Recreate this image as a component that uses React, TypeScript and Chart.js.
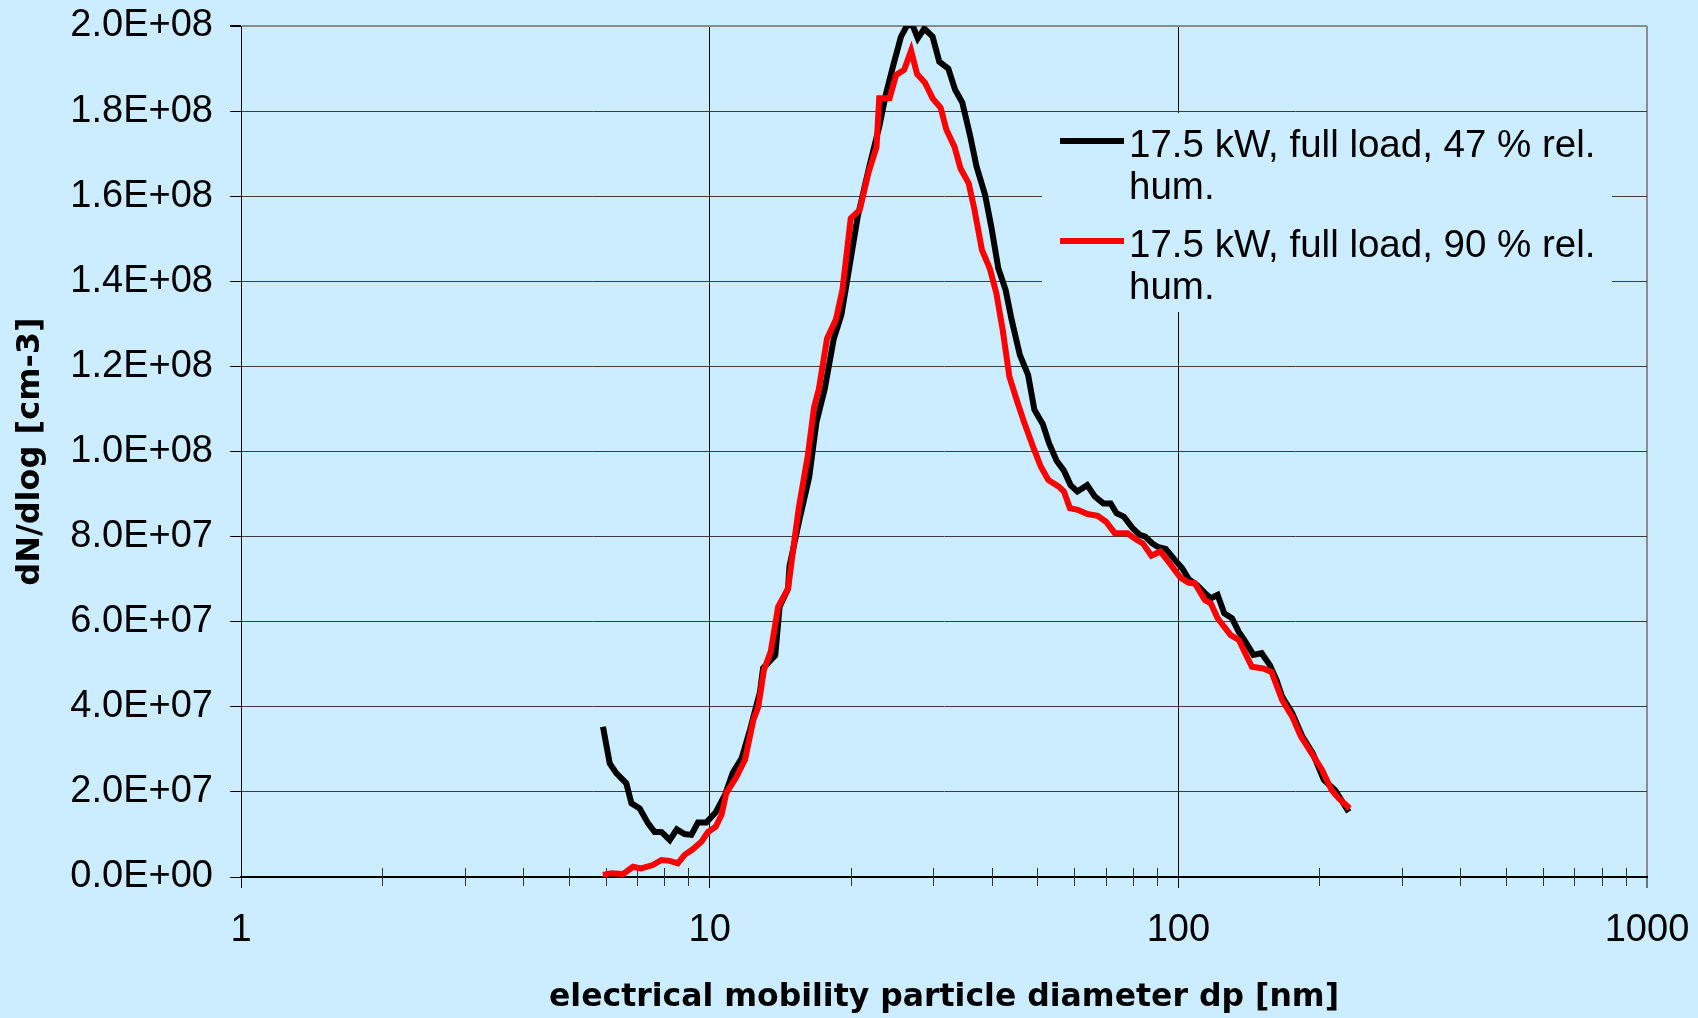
import React, { useEffect, useRef } from 'react';
import { Chart, registerables } from 'chart.js';

Chart.register(...registerables);

// ---- data ----
const blackDp = [
  5.92, 6.12, 6.32, 6.64, 6.81, 7.09, 7.39, 7.63, 7.89, 8.22, 8.51, 8.84, 9.14, 9.44, 9.84,
  10.3, 10.8, 11.2, 11.7, 12.2, 12.8, 13.0, 13.8, 14.1, 14.7, 14.8, 15.5, 16.3, 16.9, 17.6,
  18.4, 19.1, 19.6, 20.7, 21.9, 23.0, 23.8, 24.6, 25.6, 26.4, 27.1, 27.8, 28.7, 29.9, 30.9,
  32.3, 33.4, 34.6, 35.9, 37.1, 38.7, 39.9, 41.3, 42.8, 44.1, 45.9, 47.8, 49.3, 51.4, 53.0,
  55.0, 57.0, 58.9, 60.9, 63.9, 66.4, 69.2, 71.7, 73.8, 76.5, 80.0, 82.8, 85.0, 88.0, 90.3,
  94.0, 98.0, 102.0, 105.2, 109.6, 114, 117.3, 121.3, 125.3, 130.2, 134.6, 139.0, 144.6, 150.6, 156.8,
  162.0, 166.5, 175, 184, 193.5, 204.5, 216, 231,
];
const blackN = [
  35.3e6, 26.7e6, 24.4e6, 22.0e6, 17.3e6, 16.1e6, 12.6e6, 10.6e6, 10.6e6, 8.7e6, 11.2e6, 10.1e6, 9.9e6, 12.8e6, 12.8e6,
  15.2e6, 19.5e6, 24.5e6, 27.9e6, 34.7e6, 43.4e6, 49.1e6, 52.1e6, 63.5e6, 67.8e6, 73.0e6, 83.4e6, 93.9e6, 106.9e6, 114.7e6,
  126.5e6, 132.1e6, 139.5e6, 155.2e6, 166.9e6, 176.3e6, 184.2e6, 190.4e6, 197.5e6, 200.2e6, 200.2e6, 197.1e6, 199.4e6, 197.5e6, 191.6e6,
  190.0e6, 185.0e6, 182.0e6, 174.5e6, 167.0e6, 160.3e6, 152.8e6, 143.0e6, 138.0e6, 130.9e6, 122.7e6, 118.0e6, 109.8e6, 106.4e6, 101.9e6,
  97.8e6, 95.5e6, 92.1e6, 90.6e6, 92.1e6, 89.4e6, 87.8e6, 87.8e6, 85.5e6, 84.7e6, 81.9e6, 80.4e6, 80.0e6, 78.4e6, 77.6e6,
  77.1e6, 74.7e6, 72.5e6, 70.0e6, 68.6e6, 66.7e6, 65.5e6, 66.3e6, 62.0e6, 60.8e6, 57.6e6, 55.3e6, 52.2e6, 52.6e6, 49.8e6,
  46.3e6, 42.4e6, 38.5e6, 33.0e6, 29.1e6, 22.8e6, 20.4e6, 15.3e6,
];
const redDp = [
  5.92, 6.17, 6.54, 6.86, 7.14, 7.56, 7.89, 8.22, 8.55, 8.84, 9.2, 9.6, 9.92, 10.3, 10.6,
  10.85, 11.4, 11.9, 12.4, 12.7, 13.05, 13.5, 14.0, 14.7, 15.2, 15.5, 16.2, 16.7, 17.1, 17.8,
  18.6, 19.2, 20.0, 20.9, 21.8, 22.7, 23.0, 24.2, 25.0, 26.0, 26.9, 27.7, 28.8, 29.9, 31.1,
  32.0, 33.3, 34.3, 35.7, 36.7, 38.1, 39.6, 40.9, 42.2, 43.6, 45.2, 47.0, 49.1, 50.9, 52.8,
  55.5, 57.0, 58.7, 61.0, 64.0, 67.3, 70.1, 73.2, 77.9, 81.6, 84.0, 87.6, 91.5, 95.9, 101.0,
  105, 108.5, 113.9, 117.3, 121.3, 129.2, 134.6, 143.5, 151.8, 158.1, 166.5, 175, 182.7, 193.5, 202.7,
  212.4, 219.8, 232,
];
const redN = [
  0.5e6, 0.9e6, 0.7e6, 2.4e6, 2.0e6, 2.8e6, 4.0e6, 3.8e6, 3.2e6, 5.2e6, 6.5e6, 8.3e6, 10.6e6, 11.8e6, 14.6e6,
  19.7e6, 23.5e6, 27.6e6, 37.0e6, 40.0e6, 48.6e6, 53.0e6, 63.5e6, 67.8e6, 80.0e6, 86.9e6, 99.1e6, 110.4e6, 114.7e6, 126.5e6,
  131.1e6, 138.0e6, 154.8e6, 156.8e6, 165.4e6, 171.6e6, 183.0e6, 183.0e6, 188.5e6, 189.7e6, 194.2e6, 188.7e6, 186.7e6, 183.0e6, 180.8e6,
  175.6e6, 171.6e6, 166.5e6, 163.0e6, 157.0e6, 147.4e6, 143.0e6, 137.2e6, 128.5e6, 117.6e6, 112.1e6, 106.5e6, 100.8e6, 96.4e6, 93.3e6,
  91.8e6, 90.6e6, 86.7e6, 86.3e6, 85.3e6, 84.9e6, 83.5e6, 80.8e6, 80.8e6, 79.2e6, 78.4e6, 75.5e6, 76.5e6, 73.7e6, 70.4e6,
  69.2e6, 69.0e6, 65.1e6, 64.3e6, 60.8e6, 56.9e6, 55.7e6, 49.4e6, 49.0e6, 48.2e6, 41.6e6, 37.7e6, 33.0e6, 28.7e6, 25.1e6,
  20.4e6, 18.5e6, 16.1e6,
];

const seriesLabels = [
  ['17.5 kW, full load, 47 % rel.', 'hum.'],
  ['17.5 kW, full load, 90 % rel.', 'hum.'],
];
const xTickLabels = [1, 10, 100, 1000];
const xMinorTicks = [2, 3, 4, 5, 6, 7, 8, 9, 20, 30, 40, 50, 60, 70, 80, 90, 200, 300, 400, 500, 600, 700, 800, 900];
const xTitle = 'electrical mobility particle diameter dp [nm]';
const yTitle = 'dN/dlog [cm-3]';
const yMin = 0;
const yMax = 2e8;
const yStep = 2e7;

// ---- styles ----
const BG = '#CCECFF';
const SANS = '"Liberation Sans", Arial, sans-serif';
const COLORS = ['#000000', '#FF0000'];

function sci(v: number): string {
  if (Math.abs(v) < 1) return '0.0E+00';
  const e = Math.floor(Math.log10(v) + 1e-9);
  const m = v / Math.pow(10, e);
  return m.toFixed(1) + 'E+' + String(e).padStart(2, '0');
}
function isPow10(v: number): boolean {
  const l = Math.log10(v);
  return Math.abs(l - Math.round(l)) < 1e-9;
}

const overlayPlugin = {
  id: 'overlay',
  beforeDatasetsDraw(chart: any) {
    const ctx = chart.ctx;
    const xs = chart.scales.x;
    const base = chart.chartArea.bottom;
    ctx.save();
    ctx.strokeStyle = '#333333';
    ctx.lineWidth = 1;
    for (const v of xMinorTicks) {
      const px = Math.round(xs.getPixelForValue(v)) + 0.5;
      ctx.beginPath();
      ctx.moveTo(px, base - 9);
      ctx.lineTo(px, base + 9);
      ctx.stroke();
    }
    ctx.restore();
  },
  afterDatasetsDraw(chart: any) {
    const ctx = chart.ctx;
    ctx.save();
    ctx.fillStyle = BG;
    ctx.fillRect(1042, 113, 570, 199);
    const rows = [141, 241];
    seriesLabels.forEach((lines, i) => {
      const y = rows[i];
      ctx.strokeStyle = COLORS[i];
      ctx.lineWidth = 6;
      ctx.beginPath();
      ctx.moveTo(1060, y);
      ctx.lineTo(1124, y);
      ctx.stroke();
      ctx.fillStyle = '#000';
      ctx.font = '38.5px ' + SANS;
      ctx.textBaseline = 'alphabetic';
      ctx.textAlign = 'left';
      lines.forEach((t, j) => {
        ctx.fillText(t, 1129, y + 16 + j * 42);
      });
    });
    ctx.restore();
  },
};

export default function App() {
  const ref = useRef<HTMLCanvasElement | null>(null);
  useEffect(() => {
    document.body.style.margin = '0';
    document.body.style.background = BG;
    const canvas = ref.current;
    if (!canvas) return;
    const chart = new Chart(canvas, {
      type: 'scatter',
      data: {
        datasets: [
          {
            label: seriesLabels[0].join(' '),
            data: blackDp.map((x, i) => ({ x, y: blackN[i] })),
            showLine: true,
            borderColor: COLORS[0],
            backgroundColor: COLORS[0],
            borderWidth: 6,
            pointRadius: 0,
            tension: 0,
            order: 1,
          },
          {
            label: seriesLabels[1].join(' '),
            data: redDp.map((x, i) => ({ x, y: redN[i] })),
            showLine: true,
            borderColor: COLORS[1],
            backgroundColor: COLORS[1],
            borderWidth: 6,
            pointRadius: 0,
            tension: 0,
            order: 0,
          },
        ],
      },
      options: {
        responsive: false,
        animation: false,
        devicePixelRatio: 1,
        layout: { padding: { top: 26, right: 51, bottom: 0, left: 0 } },
        plugins: { legend: { display: false }, tooltip: { enabled: false } },
        scales: {
          x: {
            type: 'logarithmic',
            min: 1,
            max: 1000,
            position: 'bottom',
            afterFit: (s: any) => {
              s.height = 141;
              s.paddingLeft = 0;
              s.paddingRight = 0;
            },
            border: { color: '#000', width: 2 },
            grid: {
              color: (c: any) => {
                const v = c.tick && c.tick.value;
                if (!v || v === 1) return 'rgba(0,0,0,0)';
                if (v === 1000) return '#8c8c8c';
                return isPow10(v) ? '#000' : 'rgba(0,0,0,0)';
              },
              lineWidth: (c: any) => (c.tick && c.tick.value === 1000 ? 2 : 1),
              drawTicks: true,
              tickLength: 11,
              tickColor: (c: any) => (c.tick && isPow10(c.tick.value) ? '#000' : 'rgba(0,0,0,0)'),
              tickWidth: 1,
            },
            ticks: {
              autoSkip: false,
              maxRotation: 0,
              padding: 20,
              color: '#000',
              font: { family: SANS, size: 38 },
              callback: (v: any) => (xTickLabels.includes(Number(v)) ? String(v) : ''),
            },
            title: {
              display: true,
              text: xTitle,
              color: '#000',
              font: { family: '"DejaVu Sans", sans-serif', size: 31.5, weight: 'bold', lineHeight: 1 },
              padding: { top: 0, bottom: 4 },
            },
          },
          y: {
            type: 'linear',
            min: yMin,
            max: yMax,
            afterFit: (s: any) => {
              s.width = 241;
              s.paddingTop = 0;
              s.paddingBottom = 0;
            },
            border: { color: '#000', width: 1 },
            grid: {
              color: (c: any) => (c.tick && c.tick.value >= yMax ? '#8c8c8c' : '#3c3c3c'),
              lineWidth: (c: any) => (c.tick && c.tick.value >= yMax ? 2 : 1),
              drawTicks: true,
              tickLength: 11,
              tickColor: '#000',
            },
            ticks: {
              stepSize: yStep,
              padding: 17,
              color: '#000',
              font: { family: SANS, size: 38 },
              callback: (v: any) => sci(Number(v)),
            },
            title: {
              display: true,
              text: yTitle,
              color: '#000',
              font: { family: '"DejaVu Sans", sans-serif', size: 32, weight: 'bold', lineHeight: 1 },
              padding: { top: 15, bottom: 0 },
            },
          },
        },
      },
      plugins: [overlayPlugin],
    } as any);
    return () => chart.destroy();
  }, []);
  return (
    <div style={{ width: 1698, height: 1018, background: BG }}>
      <canvas ref={ref} width={1698} height={1018} style={{ display: 'block' }} />
    </div>
  );
}
